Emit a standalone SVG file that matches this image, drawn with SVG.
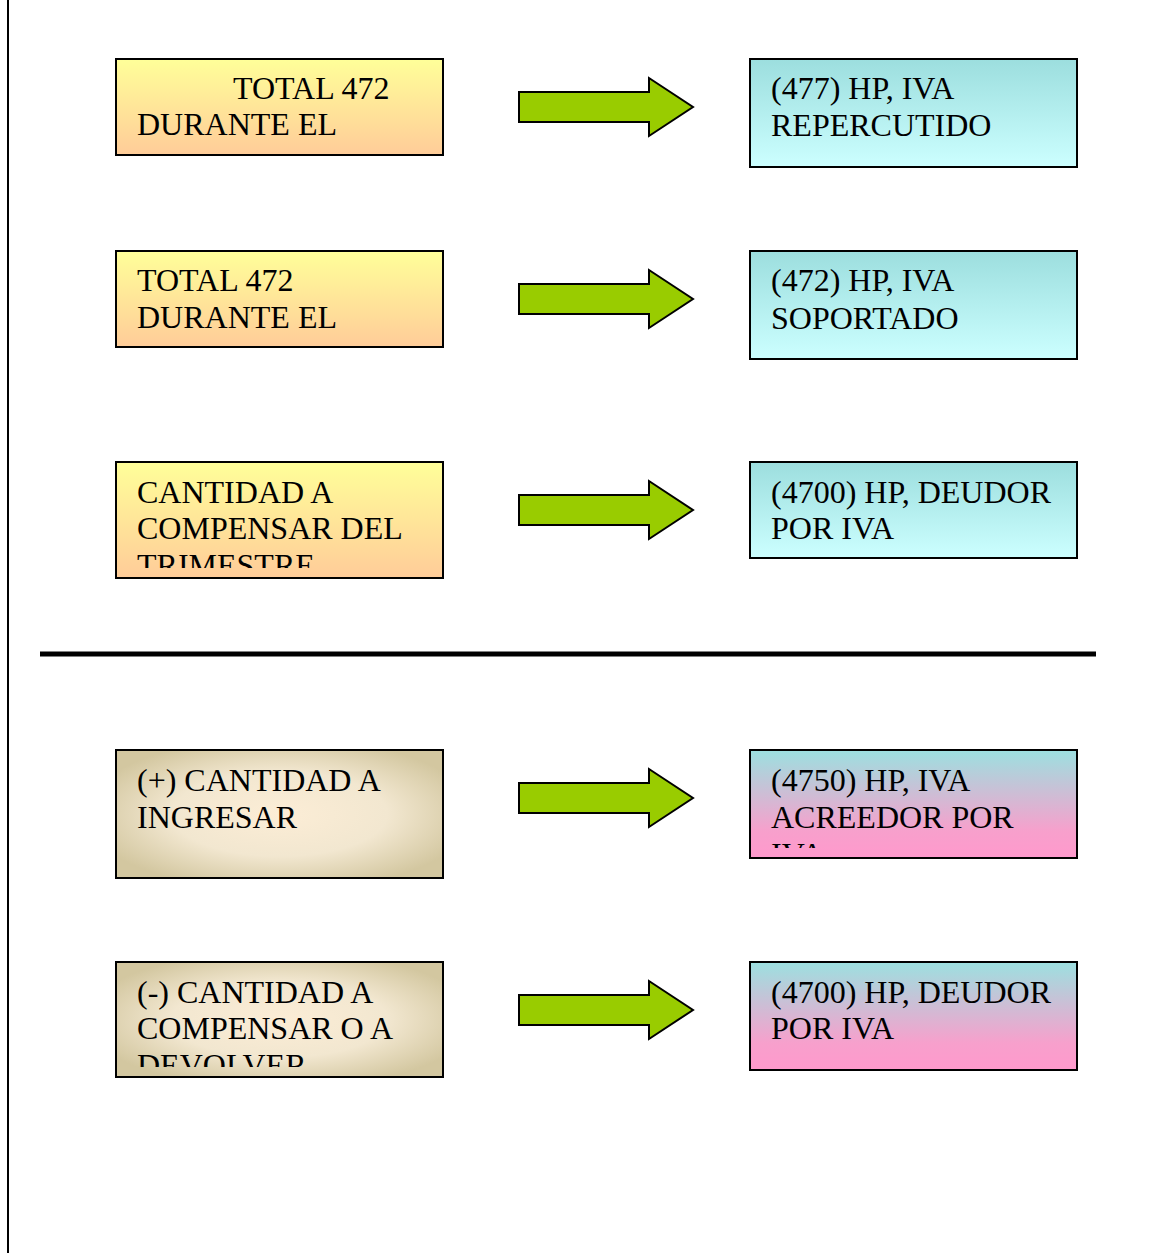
<svg xmlns="http://www.w3.org/2000/svg" width="1153" height="1253" viewBox="0 0 1153 1253">
<style>
.box{stroke:#000;stroke-width:2}
.t{font-family:"Liberation Serif","Times New Roman",serif;font-size:32px;fill:#000}
.arr{fill:#99CC00;stroke:#000;stroke-width:2;stroke-linejoin:miter}
</style>
<defs>
<linearGradient id="gy" x1="0" y1="0" x2="0" y2="1"><stop offset="0" stop-color="#FFFF99"/><stop offset="1" stop-color="#FFCC99"/></linearGradient>
<linearGradient id="gc" x1="0" y1="0" x2="0" y2="1"><stop offset="0" stop-color="#9CDEDE"/><stop offset="1" stop-color="#CCFFFF"/></linearGradient>
<linearGradient id="gp" x1="0" y1="0" x2="0" y2="1"><stop offset="0" stop-color="#9CE0E0"/><stop offset="0.75" stop-color="#F7A0CC"/><stop offset="1" stop-color="#FF99CC"/></linearGradient>
<radialGradient id="gb" cx="0.5" cy="0.5" r="0.6" fx="0.5" fy="0.5"><stop offset="0" stop-color="#FCEDD6"/><stop offset="0.55" stop-color="#F2E7D0"/><stop offset="1" stop-color="#D3C7A0"/></radialGradient>
<path id="arrow" d="M0,-15 H130 V-29 L174,0 L130,29 V15 H0 Z"/>
<clipPath id="c3"><rect x="116" y="462" width="327" height="106"/></clipPath>
<clipPath id="c4r"><rect x="750" y="750" width="327" height="98"/></clipPath>
<clipPath id="c5"><rect x="116" y="962" width="327" height="105"/></clipPath>
</defs>
<rect width="1153" height="1253" fill="#fff"/>
<line x1="8" y1="0" x2="8" y2="1253" stroke="#000" stroke-width="2"/>
<line x1="40" y1="654" x2="1096" y2="654" stroke="#000" stroke-width="5"/>

<g id="n1l"><rect class="box" x="116" y="59" width="327" height="96" fill="url(#gy)"/><text class="t" x="233" y="99">TOTAL 472</text><text class="t" x="137" y="135">DURANTE EL</text></g>
<g id="n1r"><rect class="box" x="750" y="59" width="327" height="108" fill="url(#gc)"/><text class="t" x="771" y="99">(477) HP, IVA</text><text class="t" x="771" y="136">REPERCUTIDO</text></g>

<g id="n2l"><rect class="box" x="116" y="251" width="327" height="96" fill="url(#gy)"/><text class="t" x="137" y="291">TOTAL 472</text><text class="t" x="137" y="328">DURANTE EL</text></g>
<g id="n2r"><rect class="box" x="750" y="251" width="327" height="108" fill="url(#gc)"/><text class="t" x="771" y="291">(472) HP, IVA</text><text class="t" x="771" y="329">SOPORTADO</text></g>

<g id="n3l"><rect class="box" x="116" y="462" width="327" height="116" fill="url(#gy)"/><g clip-path="url(#c3)"><text class="t" x="137" y="503">CANTIDAD A</text><text class="t" x="137" y="539">COMPENSAR DEL</text><text class="t" x="137" y="576">TRIMESTRE</text></g></g>
<g id="n3r"><rect class="box" x="750" y="462" width="327" height="96" fill="url(#gc)"/><text class="t" x="771" y="503">(4700) HP, DEUDOR</text><text class="t" x="771" y="539">POR IVA</text></g>

<g id="n4l"><rect class="box" x="116" y="750" width="327" height="128" fill="url(#gb)"/><text class="t" x="137" y="791">(+) CANTIDAD A</text><text class="t" x="137" y="828">INGRESAR</text></g>
<g id="n4r"><rect class="box" x="750" y="750" width="327" height="108" fill="url(#gp)"/><g clip-path="url(#c4r)"><text class="t" x="771" y="791">(4750) HP, IVA</text><text class="t" x="771" y="828">ACREEDOR POR</text><text class="t" x="771" y="865">IVA</text></g></g>

<g id="n5l"><rect class="box" x="116" y="962" width="327" height="115" fill="url(#gb)"/><g clip-path="url(#c5)"><text class="t" x="137" y="1003">(-) CANTIDAD A</text><text class="t" x="137" y="1039">COMPENSAR O A</text><text class="t" x="137" y="1076">DEVOLVER</text></g></g>
<g id="n5r"><rect class="box" x="750" y="962" width="327" height="108" fill="url(#gp)"/><text class="t" x="771" y="1003">(4700) HP, DEUDOR</text><text class="t" x="771" y="1039">POR IVA</text></g>

<g id="connectors">
<use href="#arrow" class="arr" x="519" y="107"/>
<use href="#arrow" class="arr" x="519" y="299"/>
<use href="#arrow" class="arr" x="519" y="510"/>
<use href="#arrow" class="arr" x="519" y="798"/>
<use href="#arrow" class="arr" x="519" y="1010"/>
</g>
</svg>
